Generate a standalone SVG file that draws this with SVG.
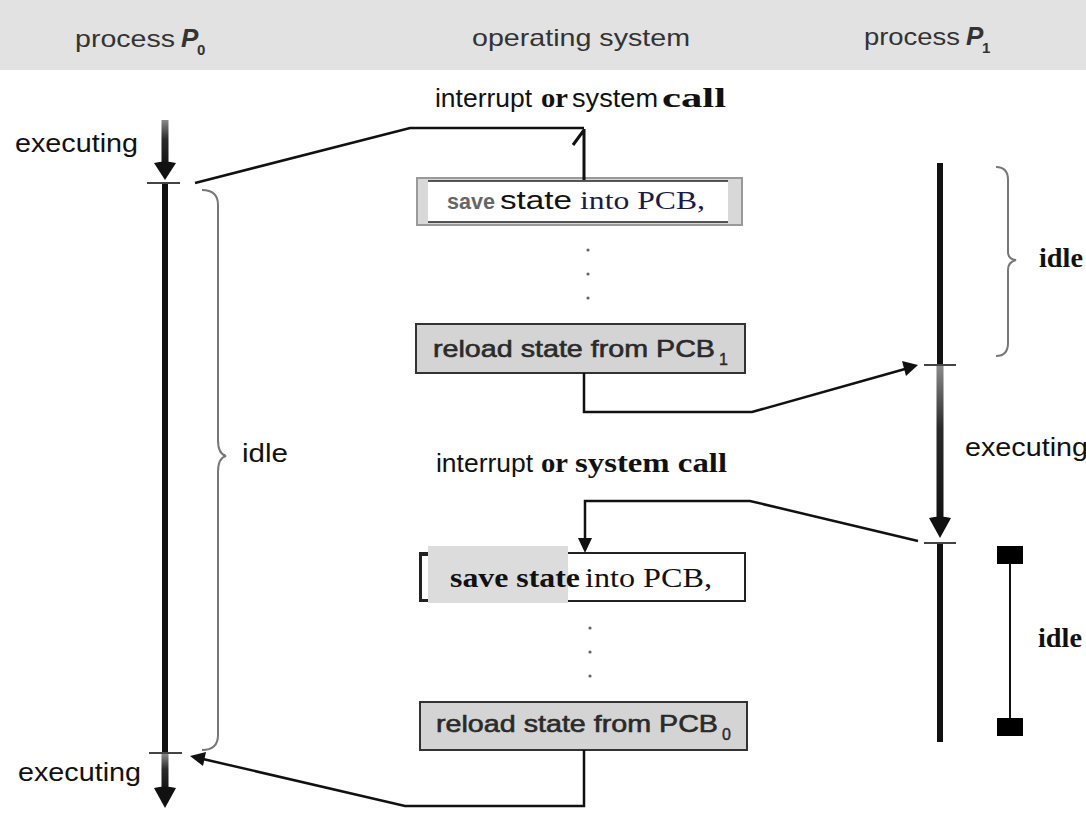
<svg xmlns="http://www.w3.org/2000/svg" width="1086" height="817" viewBox="0 0 1086 817">
  <defs>
    <style>
      .sans { font-family: "Liberation Sans", Arial, sans-serif; }
      .serif { font-family: "Liberation Serif", "Times New Roman", serif; }
      .hdr { font-size: 24px; fill: #333; }
      .lbl { font-size: 25px; fill: #111; }
      .box { fill: #d4d4d4; stroke: #333; stroke-width: 2; }
      .boxtxt { font-size: 24px; fill: #2a2a2a; stroke: #2a2a2a; stroke-width: 0.6; }
      .sub { font-size: 16px; fill: #2a2a2a; stroke: #2a2a2a; stroke-width: 0.4; }
      .conn { fill: none; stroke: #111; stroke-width: 2.5; }
      .brace { fill: none; stroke: #777; stroke-width: 2; }
      .axis { stroke: #111; stroke-width: 6; }
      .tick { stroke: #444; stroke-width: 2; }
      .dot { fill: #666; }
      .idleR { font-size: 28px; font-weight: bold; fill: #111; }
    </style>
    <linearGradient id="fadeDown" x1="0" y1="0" x2="0" y2="1">
      <stop offset="0" stop-color="#8a8a8a"/>
      <stop offset="0.4" stop-color="#2a2a2a"/>
      <stop offset="1" stop-color="#111"/>
    </linearGradient>
  </defs>

  <!-- header band -->
  <g id="header">
    <rect x="0" y="0" width="1086" height="70" fill="#e2e2e2"/>
    <text class="sans hdr" x="75" y="47" textLength="100" lengthAdjust="spacingAndGlyphs">process</text>
    <text class="sans" x="181" y="47" font-size="26" font-weight="bold" font-style="italic" fill="#333">P</text>
    <text class="sans" x="197" y="55" font-size="15" font-weight="bold" fill="#333">0</text>
    <text class="sans hdr" x="472" y="46" textLength="218" lengthAdjust="spacingAndGlyphs">operating system</text>
    <text class="sans hdr" x="864" y="45" textLength="96" lengthAdjust="spacingAndGlyphs">process</text>
    <text class="sans" x="966" y="45" font-size="26" font-weight="bold" font-style="italic" fill="#333">P</text>
    <text class="sans" x="982" y="53" font-size="15" font-weight="bold" fill="#333">1</text>
  </g>

  <!-- process P0 timeline -->
  <g id="p0">
    <rect x="161.5" y="120" width="7" height="48" fill="url(#fadeDown)"/>
    <path d="M154,163 Q165,160 176,163 L165,180 z" fill="#111"/>
    <line class="tick" x1="147" y1="183" x2="180" y2="183"/>
    <line class="axis" x1="165" y1="184" x2="165" y2="752"/>
    <line class="tick" x1="149" y1="753" x2="182" y2="753"/>
    <rect x="161.5" y="754" width="7" height="38" fill="url(#fadeDown)"/>
    <path d="M154,788 Q165,785 176,788 L165,808 z" fill="#111"/>
    <text class="sans lbl" x="15" y="152" textLength="123" lengthAdjust="spacingAndGlyphs">executing</text>
    <text class="sans lbl" x="18" y="781" textLength="123" lengthAdjust="spacingAndGlyphs">executing</text>
    <path class="brace" d="M202,190 Q218,190 218,205 L218,440 Q218,454 226,456 Q218,458 218,472 L218,735 Q218,750 202,750"/>
    <text class="sans lbl" x="242" y="462" textLength="46" lengthAdjust="spacingAndGlyphs">idle</text>
  </g>

  <!-- process P1 timeline -->
  <g id="p1">
    <line class="axis" x1="940" y1="163" x2="940" y2="364"/>
    <line class="tick" x1="924" y1="365" x2="956" y2="365"/>
    <rect x="936.5" y="366" width="7" height="156" fill="url(#fadeDown)"/>
    <path d="M929,518 Q940,515 951,518 L940,538 z" fill="#111"/>
    <line class="tick" x1="924" y1="543" x2="956" y2="543"/>
    <line class="axis" x1="940" y1="544" x2="940" y2="742"/>
    <path class="brace" d="M996,167 Q1008,167 1008,180 L1008,252 Q1008,259 1016,260 Q1008,262 1008,270 L1008,343 Q1008,356 996,356"/>
    <text class="serif idleR" x="1039" y="267" textLength="44" lengthAdjust="spacingAndGlyphs">idle</text>
    <text class="sans lbl" x="965" y="456" textLength="123" lengthAdjust="spacingAndGlyphs">executing</text>
    <rect x="997" y="546" width="26" height="18" fill="#000"/>
    <line x1="1010" y1="563" x2="1010" y2="719" stroke="#111" stroke-width="2"/>
    <rect x="997" y="718" width="26" height="18" fill="#000"/>
    <text class="serif idleR" x="1038" y="647" textLength="44" lengthAdjust="spacingAndGlyphs">idle</text>
  </g>

  <!-- operating system column -->
  <g id="interrupt1" fill="#111">
    <text class="sans" x="435" y="107" font-size="26" textLength="97" lengthAdjust="spacingAndGlyphs">interrupt</text>
    <text class="serif" x="541" y="107" font-size="28" font-weight="bold" textLength="27" lengthAdjust="spacingAndGlyphs">or</text>
    <text class="sans" x="572" y="107" font-size="26" textLength="86" lengthAdjust="spacingAndGlyphs">system</text>
    <text class="serif" x="662" y="107" font-size="28" font-weight="bold" textLength="64" lengthAdjust="spacingAndGlyphs">call</text>
  </g>

  <g id="save0">
    <rect x="417" y="178" width="325" height="47" fill="#d8d8d8" stroke="#999" stroke-width="2"/>
    <rect x="428" y="181" width="300" height="41" fill="#fff" stroke="none"/>
    <line x1="428" y1="181" x2="728" y2="181" stroke="#222" stroke-width="1.5"/>
    <line x1="428" y1="222" x2="728" y2="222" stroke="#222" stroke-width="1.5"/>
    <text class="sans" x="447" y="209" font-size="22" font-weight="bold" fill="#666" textLength="48" lengthAdjust="spacingAndGlyphs">save</text>
    <text class="sans" x="500" y="209" font-size="25" fill="#111" textLength="72" lengthAdjust="spacingAndGlyphs">state</text>
    <text class="serif" x="580" y="209" font-size="25" fill="#1a1a4a" textLength="125" lengthAdjust="spacingAndGlyphs">into PCB,</text>
  </g>

  <g id="dots1">
    <circle class="dot" cx="588" cy="250" r="1.6"/>
    <circle class="dot" cx="588" cy="274" r="1.6"/>
    <circle class="dot" cx="588" cy="298" r="1.6"/>
  </g>

  <g id="reload1">
    <rect class="box" x="416" y="324" width="329" height="49"/>
    <text class="sans boxtxt" x="433" y="357" textLength="282" lengthAdjust="spacingAndGlyphs">reload state from PCB</text>
    <text class="sans sub" x="719" y="365">1</text>
  </g>

  <g id="interrupt2" fill="#111">
    <text class="sans" x="436" y="472" font-size="26" textLength="97" lengthAdjust="spacingAndGlyphs">interrupt</text>
    <text class="serif" x="541" y="472" font-size="28" font-weight="bold" textLength="27" lengthAdjust="spacingAndGlyphs">or</text>
    <text class="serif" x="575" y="472" font-size="28" font-weight="bold" textLength="152" lengthAdjust="spacingAndGlyphs">system call</text>
  </g>

  <g id="save1">
    <rect x="420" y="553" width="325" height="48" fill="#fff" stroke="#222" stroke-width="2"/>
    <rect x="428" y="546" width="140" height="57" fill="#dcdcdc"/>
    <path d="M428,555 L421,555 L421,600 L428,600" fill="none" stroke="#222" stroke-width="2"/>
    <text class="serif" x="450" y="587" font-size="28" font-weight="bold" fill="#111" textLength="130" lengthAdjust="spacingAndGlyphs">save state</text>
    <text class="serif" x="585" y="587" font-size="28" fill="#111" textLength="127" lengthAdjust="spacingAndGlyphs">into PCB,</text>
  </g>

  <g id="dots2">
    <circle class="dot" cx="590" cy="628" r="1.6"/>
    <circle class="dot" cx="590" cy="652" r="1.6"/>
    <circle class="dot" cx="590" cy="676" r="1.6"/>
  </g>

  <g id="reload0">
    <rect class="box" x="420" y="702" width="327" height="48"/>
    <text class="sans boxtxt" x="436" y="732" textLength="282" lengthAdjust="spacingAndGlyphs">reload state from PCB</text>
    <text class="sans sub" x="722" y="740">0</text>
  </g>

  <!-- control-transfer connectors -->
  <g id="connectors">
    <path class="conn" d="M195,183 L410,128 L584,128"/>
    <path d="M584,129 L584,180 M584,130 L573,145" fill="none" stroke="#111" stroke-width="3"/>
    <path class="conn" d="M584,373 L584,412 L752,412 L905,369"/>
    <path d="M918,365 L902,361 L906,376 z" fill="#111"/>
    <path class="conn" d="M918,541 L750,501 L585,501 L585,540"/>
    <path d="M578,538 L592,538 L585,553 z" fill="#111"/>
    <path class="conn" d="M584,750 L584,806 L405,806 L203,759"/>
    <path d="M190,756 L206,752 L203,766 z" fill="#111"/>
  </g>
</svg>
